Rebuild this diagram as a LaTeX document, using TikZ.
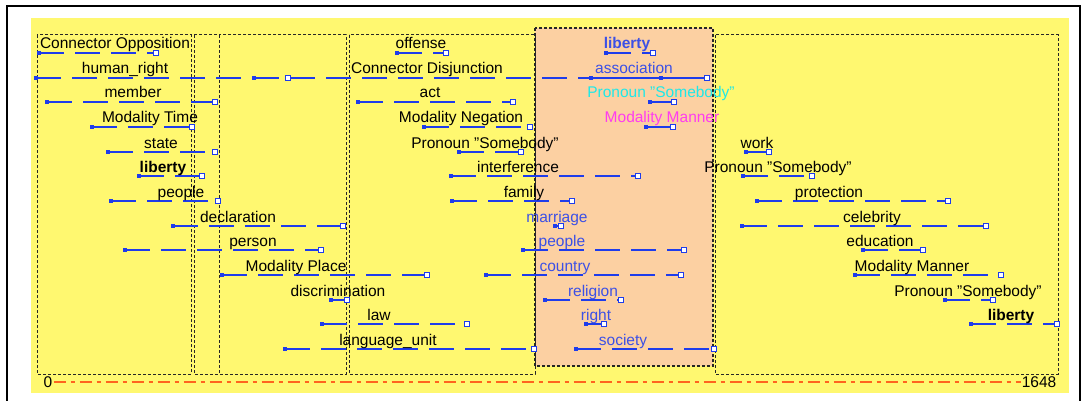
\documentclass[tikz,border=0pt]{standalone}
\usepackage{fontspec}
\setmainfont{Liberation Sans}
\usetikzlibrary{positioning}
\definecolor{panelyellow}{RGB}{255,248,112}
\definecolor{focuspeach}{RGB}{252,208,162}
\definecolor{spanblue}{RGB}{30,60,235}
\definecolor{lblblue}{RGB}{60,80,230}
\definecolor{lblcyan}{RGB}{30,232,232}
\definecolor{lblmagenta}{RGB}{255,60,240}
\definecolor{axisorange}{RGB}{255,100,30}
\newcommand{\lblsize}{\fontsize{15.5}{18}\selectfont}
% one word span: name, row y, start x, end x, label x, label, label style
\newcommand{\wordspan}[7]{%
	\coordinate (#1-s) at (#3,#2);
	\coordinate (#1-e) at (#4,#2);
	\draw[spanline] (#1-s) -- (#1-e);
	\node[startmark] (#1-sm) at (#1-s) {};
	\node[endmark] (#1-em) at (#1-e) {};
	\node[wordlabel, #7] (#1) at (#5,{#2-4}) {#6};
}

\begin{document}
\begin{tikzpicture}[
			x=1pt, y=-1pt,
			spanline/.style={draw=spanblue, line width=1.2pt, dash pattern=on 25pt off 11pt},
			startmark/.style={fill=spanblue, inner sep=0pt, minimum size=4.5pt},
			endmark/.style={draw=spanblue, fill=white, line width=0.8pt, inner sep=0pt, minimum size=4.5pt},
			wordlabel/.style={anchor=base, inner sep=0pt, font=\lblsize},
			heavy/.style={font=\lblsize\bfseries},
			focus/.style={text=lblblue},
			groupbox/.style={draw=black!85, line width=1pt, dash pattern=on 3pt off 2pt},
			axislabel/.style={inner sep=1pt, font=\lblsize},
			axisline/.style={draw=axisorange, line width=1.2pt, dash pattern=on 12pt off 5pt on 4pt off 5pt}
			]
			\useasboundingbox (0,0) rectangle (1083,401);
			
			% 1. WINDOW & PANEL
			\fill[white] (0,0) rectangle (1083,401);
			\draw[line width=1.6pt] (7,401) -- (7,6) -- (1080,6) -- (1080,401);
			\fill[panelyellow] (31,18) rectangle (1069,393);
			\fill[focuspeach] (535,28) rectangle (713,366);
			
			% 2. GROUP BOXES
			\draw[groupbox] (37,35) rectangle (191,374);
			\draw[groupbox] (194,35) rectangle (219,374);
			\draw[groupbox] (219,35) rectangle (346,374);
			\draw[groupbox] (349,35) rectangle (535,374);
			\draw[groupbox, line width=1.4pt] (535,28) rectangle (713,366);
			\draw[groupbox] (715,35) rectangle (1058,374);
			
			% 3. LEFT GROUPS
			\wordspan{opposition}{53}{39}{156}{115}{Connector Opposition}{}
			\wordspan{humanright}{78}{36}{288}{125}{human\_right}{}
			\wordspan{member}{102}{47}{215}{133}{member}{}
			\wordspan{modtime}{127}{92}{192}{150}{Modality Time}{}
			\wordspan{state}{152}{108}{215}{161}{state}{}
			\wordspan{libertyA}{176}{139}{202}{163}{liberty}{heavy}
			\wordspan{peopleA}{201}{111}{218}{181}{people}{}
			\wordspan{declaration}{226}{173}{343}{238}{declaration}{}
			\wordspan{person}{250}{125}{321}{253}{person}{}
			\wordspan{modplace}{275}{222}{427}{296}{Modality Place}{}
			\wordspan{discrimination}{300}{331}{347}{338}{discrimination}{}
			\wordspan{law}{324}{322}{467}{379}{law}{}
			\wordspan{langunit}{349}{285}{534}{388}{language\_unit}{}
			
			% 4. MIDDLE GROUP
			\wordspan{offense}{53}{397}{446}{421}{offense}{}
			\wordspan{disjunction}{78}{254}{707}{427}{Connector Disjunction}{}
			\wordspan{act}{102}{358}{513}{430}{act}{}
			\wordspan{negation}{127}{424}{530}{461}{Modality Negation}{}
			\wordspan{somebodyA}{152}{459}{521}{485}{Pronoun "Somebody"}{}
			\wordspan{interference}{176}{451}{638}{518}{interference}{}
			\wordspan{family}{201}{452}{572}{524}{family}{}
			
			% 5. FOCUS GROUP (peach)
			\wordspan{libertyB}{53}{606}{653}{627}{liberty}{heavy, focus}
			\wordspan{association}{78}{591}{707}{634}{association}{focus}
			\node[startmark] (association-mid) at (661,78) {};
			\wordspan{somebodyB}{102}{650}{674}{661}{Pronoun "Somebody"}{text=lblcyan}
			\wordspan{mannerA}{127}{646}{673}{662}{Modality Manner}{text=lblmagenta}
			\wordspan{marriage}{226}{555}{561}{557}{marriage}{focus}
			\wordspan{peopleB}{250}{523}{684}{562}{people}{focus}
			\wordspan{country}{275}{486}{681}{565}{country}{focus}
			\wordspan{religion}{300}{545}{621}{593}{religion}{focus}
			\wordspan{right}{324}{586}{604}{596}{right}{focus}
			\wordspan{society}{349}{576}{714}{623}{society}{focus}
			
			% 6. RIGHT GROUP
			\wordspan{work}{152}{746}{769}{757}{work}{}
			\wordspan{somebodyC}{176}{743}{812}{778}{Pronoun "Somebody"}{}
			\wordspan{protection}{201}{757}{948}{829}{protection}{}
			\wordspan{celebrity}{226}{742}{986}{872}{celebrity}{}
			\wordspan{education}{250}{863}{923}{880}{education}{}
			\wordspan{mannerB}{275}{855}{1001}{912}{Modality Manner}{}
			\wordspan{somebodyD}{300}{945}{993}{968}{Pronoun "Somebody"}{}
			\wordspan{libertyC}{324}{971}{1057}{1011}{liberty}{heavy}
			
			% 7. AXIS
			\node[axislabel] (zero) at (48,382) {0};
			\node[axislabel] (last) at (1039,382) {1648};
			\draw[axisline] (zero.east) -- (last.west);
		\end{tikzpicture}
\end{document}
